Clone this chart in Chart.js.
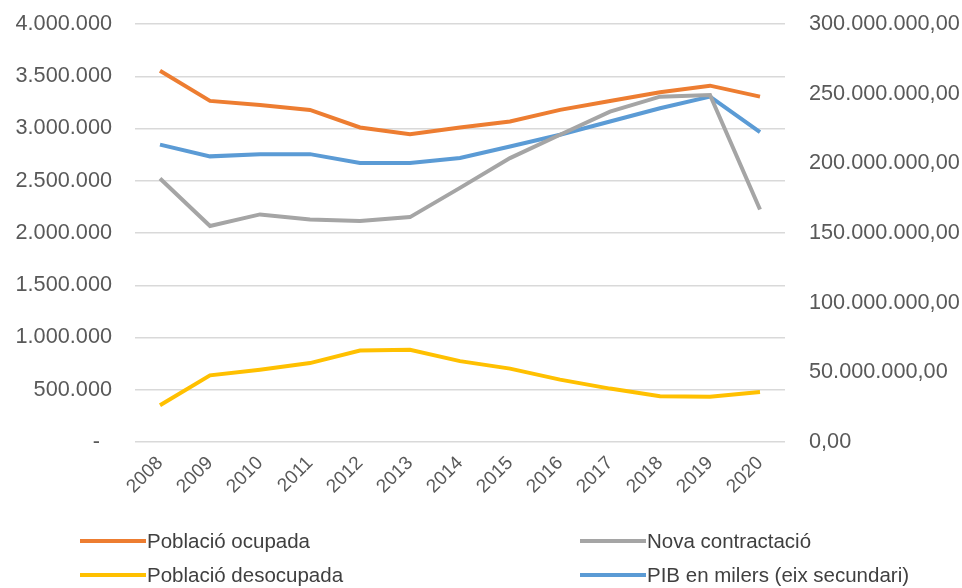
<!DOCTYPE html>
<html>
<head>
<meta charset="utf-8">
<script src="https://cdn.jsdelivr.net/npm/chart.js@4"></script>
<style>
  body { margin: 0; background: #fff; }
  #wrap { position: relative; width: 962px; height: 588px; }
  #legend { position: absolute; left: 0; top: 0; width: 962px; height: 588px; pointer-events: none;
    font-family: "Liberation Sans", Arial, sans-serif; font-size: 20.5px; color: #404040; }
  .item { position: absolute; display: flex; align-items: center; white-space: nowrap; }
  .swatch { display: inline-block; width: 66px; height: 4px; margin-right: 1px; }
</style>
</head>
<body>
<div id="wrap">
  <canvas id="grafico" width="962" height="588"></canvas>
  <div id="legend"></div>
</div>
<script>
const anys = ["2008", "2009", "2010", "2011", "2012", "2013", "2014", "2015", "2016", "2017", "2018", "2019", "2020"];

const poblacioOcupada = [3552000, 3264000, 3226000, 3178000, 3010000, 2946000, 3010000, 3067000, 3178000, 3264000, 3346000, 3410000, 3305000];
const novaContractacio = [2521000, 2067000, 2178000, 2130000, 2114000, 2152000, 2432000, 2717000, 2940000, 3162000, 3305000, 3321000, 2225000];
const poblacioDesocupada = [352000, 638000, 692000, 755000, 876000, 883000, 774000, 702000, 597000, 511000, 438000, 432000, 479000];
const pibMilers = [213400000, 205000000, 206600000, 206600000, 200200000, 200200000, 203800000, 212100000, 220500000, 230000000, 239500000, 247900000, 222400000];

const series = [
  { nom: "Població ocupada", dades: poblacioOcupada, color: "#ED7D31", eix: "y" },
  { nom: "Nova contractació", dades: novaContractacio, color: "#A5A5A5", eix: "y" },
  { nom: "Població desocupada", dades: poblacioDesocupada, color: "#FFC000", eix: "y" },
  { nom: "PIB en milers (eix secundari)", dades: pibMilers, color: "#5B9BD5", eix: "y1" }
];

function milers(v) {
  return String(v).replace(/\B(?=(\d{3})+(?!\d))/g, ".");
}

const font = { family: "'Liberation Sans', Arial, sans-serif", size: 21.7 };

// sense marge extra a dalt i a baix dels eixos verticals
function ajustarEixY(scale, amplada) {
  scale.width = amplada;
  scale.paddingTop = 0;
  scale.paddingBottom = 0;
}

new Chart(document.getElementById("grafico"), {
  type: "line",
  data: {
    labels: anys,
    datasets: series.map((s, i) => ({
      label: s.nom,
      data: s.dades,
      borderColor: s.color,
      backgroundColor: s.color,
      borderWidth: 4,
      pointRadius: 0,
      tension: 0,
      yAxisID: s.eix,
      order: i
    }))
  },
  options: {
    responsive: false,
    animation: false,
    layout: { padding: { top: 24, bottom: 0, left: 0, right: 0 } },
    plugins: { legend: { display: false }, tooltip: { enabled: false } },
    scales: {
      x: {
        offset: true,
        grid: { display: false },
        border: { display: false },
        ticks: {
          color: "#595959",
          font: { family: font.family, size: 19 },
          minRotation: 45,
          maxRotation: 45,
          padding: 2
        },
        afterFit: (scale) => { scale.height = 146; }
      },
      y: {
        position: "left",
        min: 0,
        max: 4000000,
        grid: { color: "#d9d9d9", lineWidth: 1.5, drawTicks: false },
        border: { display: false },
        ticks: {
          stepSize: 500000,
          color: "#595959",
          font: font,
          padding: 23,
          callback: (v) => v === 0 ? "-  " : milers(v)
        },
        afterFit: (scale) => ajustarEixY(scale, 135)
      },
      y1: {
        position: "right",
        min: 0,
        max: 300000000,
        grid: { display: false },
        border: { display: false },
        ticks: {
          stepSize: 50000000,
          color: "#595959",
          font: font,
          padding: 16,
          callback: (v) => milers(v) + ",00"
        },
        afterFit: (scale) => ajustarEixY(scale, 177)
      }
    }
  }
});

// llegenda en dues columnes
const llegenda = document.getElementById("legend");
const posicions = [[80, 541], [580, 541], [80, 575], [580, 575]];
series.forEach((s, i) => {
  const div = document.createElement("div");
  div.className = "item";
  div.style.left = posicions[i][0] + "px";
  div.style.top = (posicions[i][1] - 12) + "px";
  div.innerHTML = `<span class="swatch" style="background:${s.color}"></span>${s.nom}`;
  llegenda.appendChild(div);
});
</script>
</body>
</html>
